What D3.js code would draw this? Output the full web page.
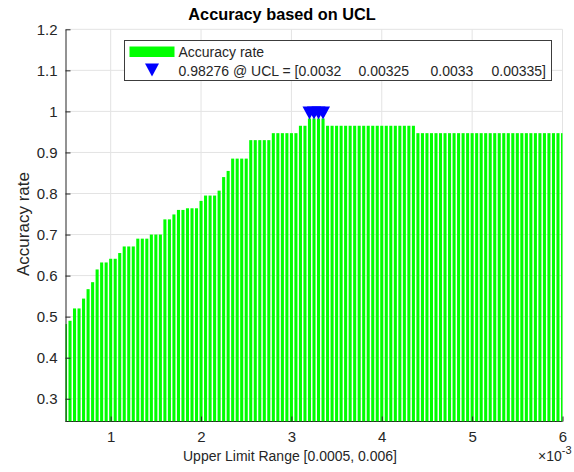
<!DOCTYPE html>
<html>
<head>
<meta charset="utf-8">
<script src="https://cdn.jsdelivr.net/npm/d3@7"></script>
<style>
  body { margin: 0; background: #fff; }
  text { font-family: "Liberation Sans", Arial, sans-serif; fill: #262626; }
</style>
</head>
<body>
<svg id="chart"></svg>
<script>
// UCL values (x) and the accuracy for each
const ucl = [
  0.0005, 0.00055, 0.0006, 0.00065, 0.0007, 0.00075, 0.0008, 0.00085, 0.0009, 0.00095,
  0.001, 0.00105, 0.0011, 0.00115, 0.0012, 0.00125, 0.0013, 0.00135, 0.0014, 0.00145,
  0.0015, 0.00155, 0.0016, 0.00165, 0.0017, 0.00175, 0.0018, 0.00185, 0.0019, 0.00195,
  0.002, 0.00205, 0.0021, 0.00215, 0.0022, 0.00225, 0.0023, 0.00235, 0.0024, 0.00245,
  0.0025, 0.00255, 0.0026, 0.00265, 0.0027, 0.00275, 0.0028, 0.00285, 0.0029, 0.00295,
  0.003, 0.00305, 0.0031, 0.00315, 0.0032, 0.00325, 0.0033, 0.00335, 0.0034, 0.00345,
  0.0035, 0.00355, 0.0036, 0.00365, 0.0037, 0.00375, 0.0038, 0.00385, 0.0039, 0.00395,
  0.004, 0.00405, 0.0041, 0.00415, 0.0042, 0.00425, 0.0043, 0.00435, 0.0044, 0.00445,
  0.0045, 0.00455, 0.0046, 0.00465, 0.0047, 0.00475, 0.0048, 0.00485, 0.0049, 0.00495,
  0.005, 0.00505, 0.0051, 0.00515, 0.0052, 0.00525, 0.0053, 0.00535, 0.0054, 0.00545,
  0.0055, 0.00555, 0.0056, 0.00565, 0.0057, 0.00575, 0.0058, 0.00585, 0.0059, 0.00595,
  0.006
];
const accuracy = [
  0.482, 0.490, 0.520, 0.520, 0.544, 0.567, 0.584, 0.615, 0.632, 0.632,
  0.641, 0.641, 0.655, 0.671, 0.671, 0.671, 0.690, 0.690, 0.690, 0.700,
  0.700, 0.700, 0.737, 0.737, 0.749, 0.760, 0.760, 0.764, 0.764, 0.764,
  0.782, 0.795, 0.795, 0.795, 0.807, 0.840, 0.855, 0.885, 0.885, 0.885,
  0.885, 0.930, 0.930, 0.930, 0.930, 0.930, 0.947, 0.947, 0.947, 0.947,
  0.947, 0.947, 0.965, 0.965, 0.98276, 0.98276, 0.98276, 0.98276, 0.965, 0.965,
  0.965, 0.965, 0.965, 0.965, 0.965, 0.965, 0.965, 0.965, 0.965, 0.965,
  0.965, 0.965, 0.965, 0.965, 0.965, 0.965, 0.965, 0.965, 0.947, 0.947,
  0.947, 0.947, 0.947, 0.947, 0.947, 0.947, 0.947, 0.947, 0.947, 0.947,
  0.947, 0.947, 0.947, 0.947, 0.947, 0.947, 0.947, 0.947, 0.947, 0.947,
  0.947, 0.947, 0.947, 0.947, 0.947, 0.947, 0.947, 0.947, 0.947, 0.947,
  0.947
];

// best accuracy and the UCLs where it happens
const bestAcc = 0.98276;
const bestUcl = [0.0032, 0.00325, 0.0033, 0.00335];

const xTicks = [0.001, 0.002, 0.003, 0.004, 0.005, 0.006];
const xTickLabels = ["1", "2", "3", "4", "5", "6"];
const yTicks = [0.3, 0.4, 0.5, 0.6, 0.7, 0.8, 0.9, 1.0, 1.1, 1.2];
const yTickLabels = ["0.3", "0.4", "0.5", "0.6", "0.7", "0.8", "0.9", "1", "1.1", "1.2"];

const W = 574, H = 472;
const margin = { top: 29.3, right: 11.5, bottom: 50.5, left: 65.5 };
const width = W - margin.left - margin.right,
      height = H - margin.top - margin.bottom;

const svg = d3.select("#chart").attr("width", W).attr("height", H);

const x = d3.scaleLinear().domain([0.0005, 0.006]).range([0, width]);
const y = d3.scaleLinear().domain([0.2446, 1.2]).range([height, 0]);

const g = svg.append("g").attr("transform", `translate(${margin.left},${margin.top})`);

svg.append("defs").append("clipPath").attr("id", "plotclip")
  .append("rect").attr("width", width).attr("height", height);

// grid
g.append("g").selectAll("line").data(xTicks).join("line")
  .attr("x1", d => x(d)).attr("x2", d => x(d))
  .attr("y1", 0).attr("y2", height)
  .attr("stroke", "#e3e3e3");
g.append("g").selectAll("line").data(yTicks).join("line")
  .attr("x1", 0).attr("x2", width)
  .attr("y1", d => y(d)).attr("y2", d => y(d))
  .attr("stroke", "#e3e3e3");

// bottom axis line (under bars)
g.append("line").attr("x1", 0).attr("x2", width).attr("y1", height).attr("y2", height)
  .attr("stroke", "#262626");

// bars
const step = x(ucl[1]) - x(ucl[0]);
const bw = step * 0.68;
g.append("g").attr("clip-path", "url(#plotclip)")
  .selectAll("rect").data(ucl).join("rect")
  .attr("x", d => x(d) - bw / 2)
  .attr("width", bw)
  .attr("y", (d, i) => y(accuracy[i]))
  .attr("height", (d, i) => height - y(accuracy[i]))
  .attr("fill", "#00ff00");

// best markers (downward triangles, tip at the value)
const tri = (cx, cy) => `M${cx - 7},${cy - 13}L${cx + 7},${cy - 13}L${cx},${cy}Z`;
g.append("g").selectAll("path").data(bestUcl).join("path")
  .attr("d", d => tri(x(d), y(bestAcc) + 1))
  .attr("fill", "#0000ff");

// axes
const yAxis = d3.axisLeft(y).tickValues(yTicks).tickFormat((d, i) => yTickLabels[i])
  .tickSizeInner(-5).tickSizeOuter(0).tickPadding(8);
const ya = g.append("g").call(yAxis);
ya.select(".domain").attr("stroke", "#262626");
ya.selectAll(".tick line").attr("stroke", "#262626");
ya.selectAll("text").style("font-size", "15px").attr("fill", "#262626");

const xAxis = d3.axisBottom(x).tickValues(xTicks).tickFormat((d, i) => xTickLabels[i])
  .tickSizeInner(-5).tickSizeOuter(0).tickPadding(10);
const xa = g.append("g").attr("transform", `translate(0,${height})`).call(xAxis);
xa.select(".domain").remove();
xa.selectAll(".tick line").attr("stroke", "#262626");
xa.selectAll("text").style("font-size", "15px").attr("fill", "#262626");

// labels
svg.append("text").attr("x", 282).attr("y", 20)
  .attr("text-anchor", "middle").style("font-size", "16.3px").style("font-weight", "bold")
  .style("fill", "#000")
  .text("Accuracy based on UCL");

svg.append("text").attr("x", 290).attr("y", 461)
  .attr("text-anchor", "middle").style("font-size", "14px")
  .text("Upper Limit Range [0.0005, 0.006]");

svg.append("text")
  .attr("transform", `translate(29,224) rotate(-90)`)
  .attr("text-anchor", "middle").style("font-size", "17px")
  .text("Accuracy rate");

const expo = svg.append("text").attr("x", 538).attr("y", 461).style("font-size", "14px");
expo.append("tspan").text("\u00d710");
expo.append("tspan").attr("dy", -7).style("font-size", "11px").text("-3");

// legend
const lg = svg.append("g").attr("transform", "translate(124.5,40.5)");
lg.append("rect").attr("width", 427).attr("height", 40)
  .attr("fill", "#fff").attr("stroke", "#3c3c3c").attr("stroke-width", 1);
lg.append("rect").attr("x", 5).attr("y", 6).attr("width", 45).attr("height", 10.5)
  .attr("fill", "#00ff00");
lg.append("text").attr("x", 54).attr("y", 16).style("font-size", "14px").text("Accuracy rate");
lg.append("path").attr("d", tri(27.5, 36)).attr("fill", "#0000ff");
const lt = lg.append("text").attr("y", 35).style("font-size", "14px");
const colX = [54, 234, 306, 367];
bestUcl.forEach((u, i) => {
  const pre = i === 0 ? `${bestAcc} @ UCL = [` : "";
  const post = i === bestUcl.length - 1 ? "]" : "";
  lt.append("tspan").attr("x", colX[i]).text(pre + u + post);
});
</script>
</body>
</html>
